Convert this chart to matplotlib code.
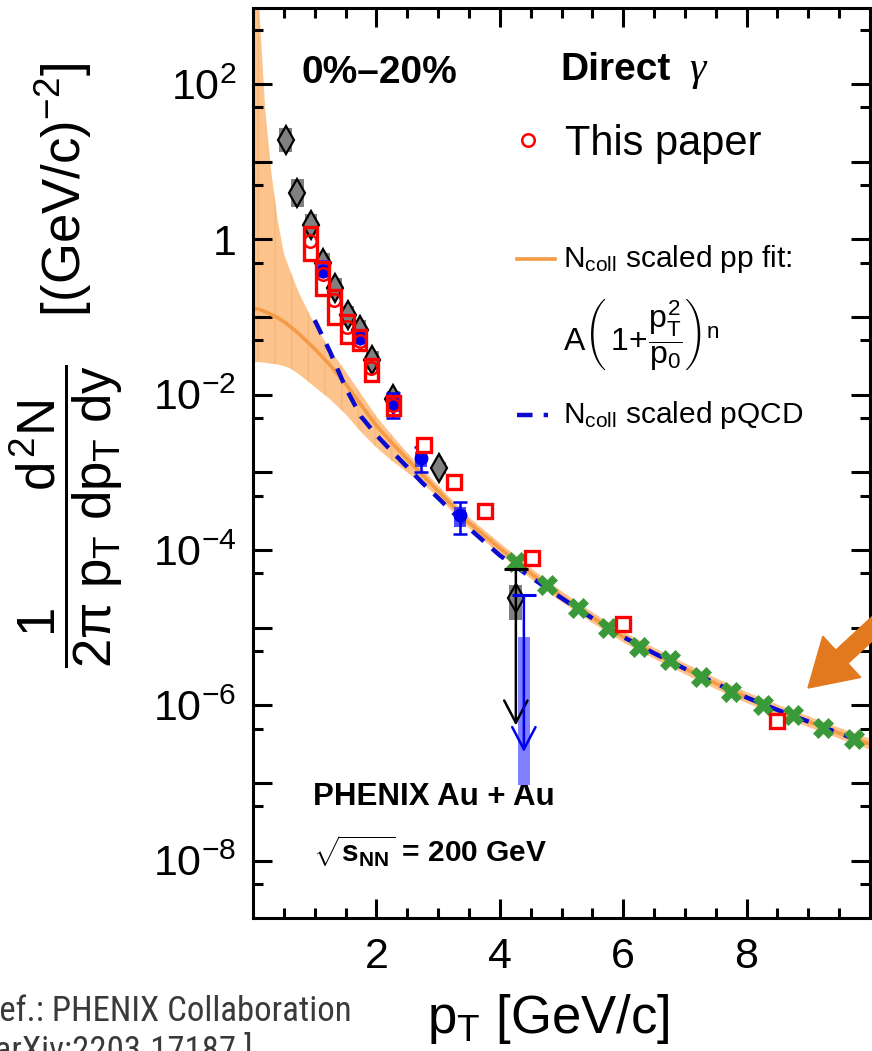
import matplotlib
matplotlib.use('Agg')
import matplotlib.pyplot as plt
from matplotlib.ticker import FixedLocator, FuncFormatter, NullFormatter
from matplotlib.patches import FancyArrow
from matplotlib.lines import Line2D
from matplotlib.transforms import IdentityTransform
import numpy as np

plt.rcParams['font.family'] = ['Liberation Sans', 'DejaVu Sans']
plt.rcParams['mathtext.fontset'] = 'custom'
plt.rcParams['mathtext.rm'] = 'Liberation Sans'
plt.rcParams['mathtext.it'] = 'Liberation Sans'
plt.rcParams['mathtext.bf'] = 'Liberation Sans:bold'

# ---------------- data ----------------
# N_coll scaled pp fit (central curve and uncertainty band)
fit_x = [0.0, 0.1, 0.2, 0.3, 0.4, 0.5, 0.6, 0.75, 1.0, 1.25, 1.5, 1.75, 2.0, 2.25, 2.5,
         2.75, 3.0, 3.5, 4.0, 4.5, 5.0, 5.5, 6.0, 6.5, 7.0, 7.5, 8.0, 8.5, 9.0, 9.5, 10.0]
fit_y = [0.129, 0.126, 0.117, 0.107, 0.0977, 0.0871, 0.0759, 0.0603, 0.0389, 0.0240,
         0.0138, 7.41e-3, 3.98e-3, 2.40e-3, 1.48e-3, 9.12e-4, 5.75e-4, 2.24e-4, 1.05e-4,
         5.0e-5, 2.51e-5, 1.35e-5, 7.59e-6, 4.68e-6, 2.95e-6, 1.91e-6, 1.26e-6, 8.71e-7,
         6.17e-7, 4.37e-7, 3.16e-7]
fit_hi = [1e4, 1e3, 44.7, 7.08, 1.78, 0.661, 0.398, 0.2, 0.0794, 0.038, 0.02, 0.0102,
          5.25e-3, 3.02e-3, 1.78e-3, 1.10e-3, 6.76e-4, 2.63e-4, 1.23e-4, 5.89e-5, 2.95e-5,
          1.58e-5, 8.91e-6, 5.5e-6, 3.47e-6, 2.24e-6, 1.48e-6, 1.02e-6, 7.24e-7, 5.13e-7,
          3.72e-7]
fit_lo = [0.0263, 0.0263, 0.0257, 0.0251, 0.0245, 0.0234, 0.0219, 0.0182, 0.0126, 8.71e-3,
          5.62e-3, 3.31e-3, 2.09e-3, 1.41e-3, 1.0e-3, 7.08e-4, 4.79e-4, 1.91e-4, 8.91e-5,
          4.27e-5, 2.14e-5, 1.15e-5, 6.46e-6, 3.98e-6, 2.51e-6, 1.62e-6, 1.07e-6, 7.41e-7,
          5.25e-7, 3.72e-7, 2.69e-7]

# N_coll scaled pQCD
pqcd_x = [1.0, 1.25, 1.5, 1.75, 2.0, 2.25, 2.5, 2.75, 3.0, 3.5, 4.0, 4.5, 5.0, 5.5, 6.0,
          6.5, 7.0, 7.5, 8.0, 8.5, 9.0, 9.5, 9.9]
pqcd_y = [0.0912, 0.0355, 0.0123, 5.25e-3, 3.02e-3, 1.86e-3, 1.17e-3, 7.24e-4, 4.68e-4,
          1.91e-4, 8.51e-5, 4.47e-5, 2.4e-5, 1.32e-5, 7.59e-6, 4.68e-6, 2.95e-6, 1.91e-6,
          1.26e-6, 8.71e-7, 6.17e-7, 4.37e-7, 3.31e-7]

# grey diamonds (earlier PHENIX result) with systematic boxes
gray_x = [0.53, 0.72, 0.94, 1.14, 1.33, 1.54, 1.73, 1.93, 2.27, 3.02, 4.26]
gray_y = [19.0, 4.0, 1.55, 0.50, 0.24, 0.105, 0.069, 0.028, 8.7e-3, 1.13e-3, 2.4e-5]
gray_lo = [13.5, 2.6, 1.15, 0.38, 0.18, 0.08, 0.052, 0.021, 6.7e-3, 9.5e-4, 1.26e-5]
gray_hi = [27.0, 6.0, 2.1, 0.66, 0.32, 0.14, 0.092, 0.037, 0.0112, 1.35e-3, 3.5e-5]

# "This paper": red circles with systematic boxes
red_x = [0.93, 1.13, 1.32, 1.53, 1.73, 1.92, 2.27]
red_y = [0.96, 0.357, 0.168, 0.0746, 0.049, 0.022, 7.4e-3]
red_lo = [0.536, 0.195, 0.0824, 0.0469, 0.038, 0.0152, 5.5e-3]
red_hi = [1.43, 0.505, 0.22, 0.1077, 0.069, 0.0292, 9.7e-3]

# red open squares at higher pT
sq_x = [2.77, 3.26, 3.76, 4.52, 6.0, 8.49]
sq_y = [2.26e-3, 7.6e-4, 3.2e-4, 7.8e-5, 1.1e-5, 6.2e-7]

# blue points with stat. errors and systematic boxes
blue_x = [1.14, 1.73, 2.27, 2.72, 3.35]
blue_y = [0.39, 0.054, 7.8e-3, 1.52e-3, 2.83e-4]
blue_elo = [0.35, 0.047, 5.0e-3, 1.0e-3, 1.62e-4]
blue_ehi = [0.43, 0.061, 0.0105, 2.1e-3, 4.2e-4]
blue_blo = [0.36, 0.046, 5.9e-3, 1.18e-3, 2.0e-4]
blue_bhi = [0.54, 0.066, 9.3e-3, 1.84e-3, 3.6e-4]

# green crosses
green_x = [4.26, 4.76, 5.26, 5.76, 6.26, 6.76, 7.26, 7.75, 8.26, 8.75, 9.24, 9.74]
green_y = [7.0e-5, 3.5e-5, 1.8e-5, 1.0e-5, 5.6e-6, 3.8e-6, 2.3e-6, 1.5e-6, 1.0e-6,
           7.4e-7, 5.1e-7, 3.7e-7]

# upper limits (black: grey series, blue: blue series)
lim_x = [4.26, 4.39]
lim_top = [5.7e-5, 2.6e-5]
lim_bot = [5.5e-7, 2.5e-7]
lim_colors = ['black', '#0000ee']
lim_box_lo = [None, 9.3e-8]
lim_box_hi = [None, 7.6e-6]

y_decades = [1e-9, 1e-8, 1e-7, 1e-6, 1e-5, 1e-4, 1e-3, 1e-2, 1e-1, 1.0, 1e1, 1e2, 1e3]
y_minor = [5e-9, 5e-8, 5e-7, 5e-6, 5e-5, 5e-4, 5e-3, 5e-2, 0.5, 5.0, 50.0, 500.0]
y_labels = {1e2: r'$10^{2}$', 1.0: '1', 1e-2: r'$10^{-2}$', 1e-4: r'$10^{-4}$',
            1e-6: r'$10^{-6}$', 1e-8: r'$10^{-8}$'}
x_major = [2, 4, 6, 8]
x_minor = [0.5, 1, 1.5, 2.5, 3, 3.5, 4.5, 5, 5.5, 6.5, 7, 7.5, 8.5, 9, 9.5]

# ---------------- figure ----------------
W, H = 872, 1051
fig = plt.figure(figsize=(W / 100, H / 100), dpi=100)
ax = fig.add_axes([253 / W, (H - 918) / H, 617 / W, 910 / H])
ax.set_yscale('log')
ax.set_xlim(0, 10)
ax.set_ylim(10 ** -8.74, 10 ** 2.98)

orange_band = '#fdc38c'
orange_line = '#f59a45'

ax.fill_between(fit_x, fit_lo, fit_hi, facecolor=orange_band, edgecolor='#f8b77a',
                hatch='|', linewidth=0, zorder=1)
ax.plot(fit_x, fit_y, color=orange_line, lw=2.6, zorder=2)
ax.plot(pqcd_x, pqcd_y, color='#0a0ad0', lw=3.2, dashes=(3.5, 2.5), zorder=3)

# grey boxes and diamonds
ax.bar(gray_x, np.array(gray_hi) - np.array(gray_lo), bottom=gray_lo, width=0.21,
       color='#808080', zorder=4)
ax.plot(gray_x, gray_y, ls='none', marker='d', ms=14, mfc='#808080', mec='black',
        mew=1.6, zorder=5)

# blue boxes, error bars, points
ax.bar(blue_x, np.array(blue_bhi) - np.array(blue_blo), bottom=blue_blo, width=0.2,
       color='#2a2aff', alpha=0.85, zorder=6)
by = np.array(blue_y)
ax.errorbar(blue_x, blue_y, yerr=[by - np.array(blue_elo), np.array(blue_ehi) - by],
            fmt='o', ms=9, color='#0000ee', ecolor='#0000ee', elinewidth=1.8,
            capsize=5, capthick=1.8, zorder=7)

# red boxes and circles
ax.bar(red_x, np.array(red_hi) - np.array(red_lo), bottom=red_lo, width=0.21,
       facecolor='none', edgecolor='#ff0000', linewidth=2.4, zorder=8)
ax.plot(red_x, red_y, ls='none', marker='o', ms=9, mfc='none', mec='#ff0000',
        mew=1.8, zorder=9)

# green crosses
ax.plot(green_x, green_y, ls='none', marker='X', ms=15, mfc='#3a9a3a', mec='#3a9a3a',
        mew=0.5, zorder=10)

# red squares
ax.plot(sq_x, sq_y, ls='none', marker='s', ms=9.5, mfc='white', mec='#ff0000',
        mew=2.4, zorder=11)

# upper limits
for xx, top, bot, col, blo, bhi in zip(lim_x, lim_top, lim_bot, lim_colors,
                                       lim_box_lo, lim_box_hi):
    if blo is not None:
        ax.bar([xx], [bhi - blo], bottom=[blo], width=0.2, color='#7f7fff', zorder=6)
    ax.annotate('', xy=(xx, bot), xytext=(xx, top),
                arrowprops=dict(arrowstyle='->,head_length=0.8,head_width=0.42',
                                color=col, lw=1.8, shrinkA=0, shrinkB=0,
                                mutation_scale=20), zorder=12)
    ax.errorbar([xx], [top], xerr=[[0.19], [0.19]], fmt='none', ecolor=col,
                elinewidth=2.2, zorder=12)

# ---------------- axes styling ----------------
for s in ax.spines.values():
    s.set_linewidth(2.2)
ax.yaxis.set_major_locator(FixedLocator(y_decades))
ax.yaxis.set_minor_locator(FixedLocator(y_minor))
ax.yaxis.set_major_formatter(FuncFormatter(
    lambda v, p: next((lab for k, lab in y_labels.items() if abs(v / k - 1) < 1e-6), '')))
ax.yaxis.set_minor_formatter(NullFormatter())
ax.xaxis.set_major_locator(FixedLocator(x_major))
ax.xaxis.set_minor_locator(FixedLocator(x_minor))
ax.xaxis.set_major_formatter(FuncFormatter(lambda v, p: '%d' % v))
ax.tick_params(which='both', direction='in', top=True, right=True, width=2.2)
ax.tick_params(which='major', length=14)
ax.tick_params(which='minor', length=7)
ax.tick_params(axis='y', which='major', labelsize=31, pad=12)
ax.tick_params(axis='x', which='major', labelsize=31, pad=14)

# ---------------- texts ----------------
ax.text(0.078, 0.918, '0%–20%', transform=ax.transAxes, fontsize=28,
        fontweight='bold', va='baseline', ha='left')
ax.text(0.4976, 0.921, 'Direct', transform=ax.transAxes, fontsize=28,
        fontweight='bold', va='baseline', ha='left')
ax.text(0.707, 0.921, 'γ', transform=ax.transAxes, fontsize=30,
        family=['Liberation Serif', 'DejaVu Serif'], style='italic',
        va='baseline', ha='left')

ax.add_line(Line2D([0.446], [0.855], transform=ax.transAxes, marker='o', ms=9,
                   mfc='none', mec='#ff0000', mew=1.8, ls='none'))
ax.text(0.506, 0.838, 'This paper', transform=ax.transAxes, fontsize=30,
        va='baseline', ha='left')

ax.add_line(Line2D([0.428, 0.490], [0.724, 0.724], transform=ax.transAxes,
                   color=orange_line, lw=2.6))
ax.text(0.502, 0.715, r'N$_{\rm coll}$ scaled pp fit:', transform=ax.transAxes,
        fontsize=21.5, va='baseline', ha='left')
ax.text(0.502, 0.641, r'A$\left(\,1\!+\!\dfrac{p_{T}^{2}}{p_{0}}\right)^{n}$',
        transform=ax.transAxes, fontsize=23, va='center', ha='left')
ax.add_line(Line2D([0.428, 0.478], [0.553, 0.553], transform=ax.transAxes,
                   color='#0a0ad0', lw=3.2, dashes=(3.5, 2.5)))
ax.text(0.502, 0.544, r'N$_{\rm coll}$ scaled pQCD', transform=ax.transAxes,
        fontsize=21.5, va='baseline', ha='left')

ax.text(0.097, 0.124, 'PHENIX Au + Au', transform=ax.transAxes, fontsize=22.5,
        fontweight='bold', va='baseline', ha='left')
ax.text(0.097, 0.0615, r'$\sqrt{\mathbf{s}_{\mathbf{NN}}}$ = 200 GeV',
        transform=ax.transAxes, fontsize=21.5, fontweight='bold', va='baseline', ha='left')

# axis labels
fig.text(66 / W, (H - 365) / H,
         r'$\dfrac{1\qquad\ \ d^{2}N}{2\pi\ p_{T}\ dp_{T}\ dy}\quad[(\mathrm{GeV}/c)^{-2}]$',
         rotation=90, fontsize=38, ha='center', va='center')
fig.text(548 / W, (H - 1033) / H, r'p$_{\rm T}$ [GeV/c]', fontsize=38,
         ha='center', va='baseline')

# footer reference (cut at the figure edge, as in the source slide)
fig.text(-19 / W, (H - 1021) / H, 'Ref.: PHENIX Collaboration', fontsize=25,
         color='#3a3a3a', family=['Roboto Condensed', 'Roboto', 'DejaVu Sans'],
         ha='left', va='baseline')
fig.text(-14 / W, (H - 1061) / H, '[arXiv:2203.17187 ]', fontsize=25,
         color='#3a3a3a', family=['Roboto Condensed', 'Roboto', 'DejaVu Sans'],
         ha='left', va='baseline')

# highlight arrow
fig.add_artist(FancyArrow(885, H - 617, -77, -71, width=18, head_width=56,
                          head_length=46, length_includes_head=True,
                          color='#e2791f', transform=IdentityTransform()))

fig.savefig('out.png', dpi=100)
